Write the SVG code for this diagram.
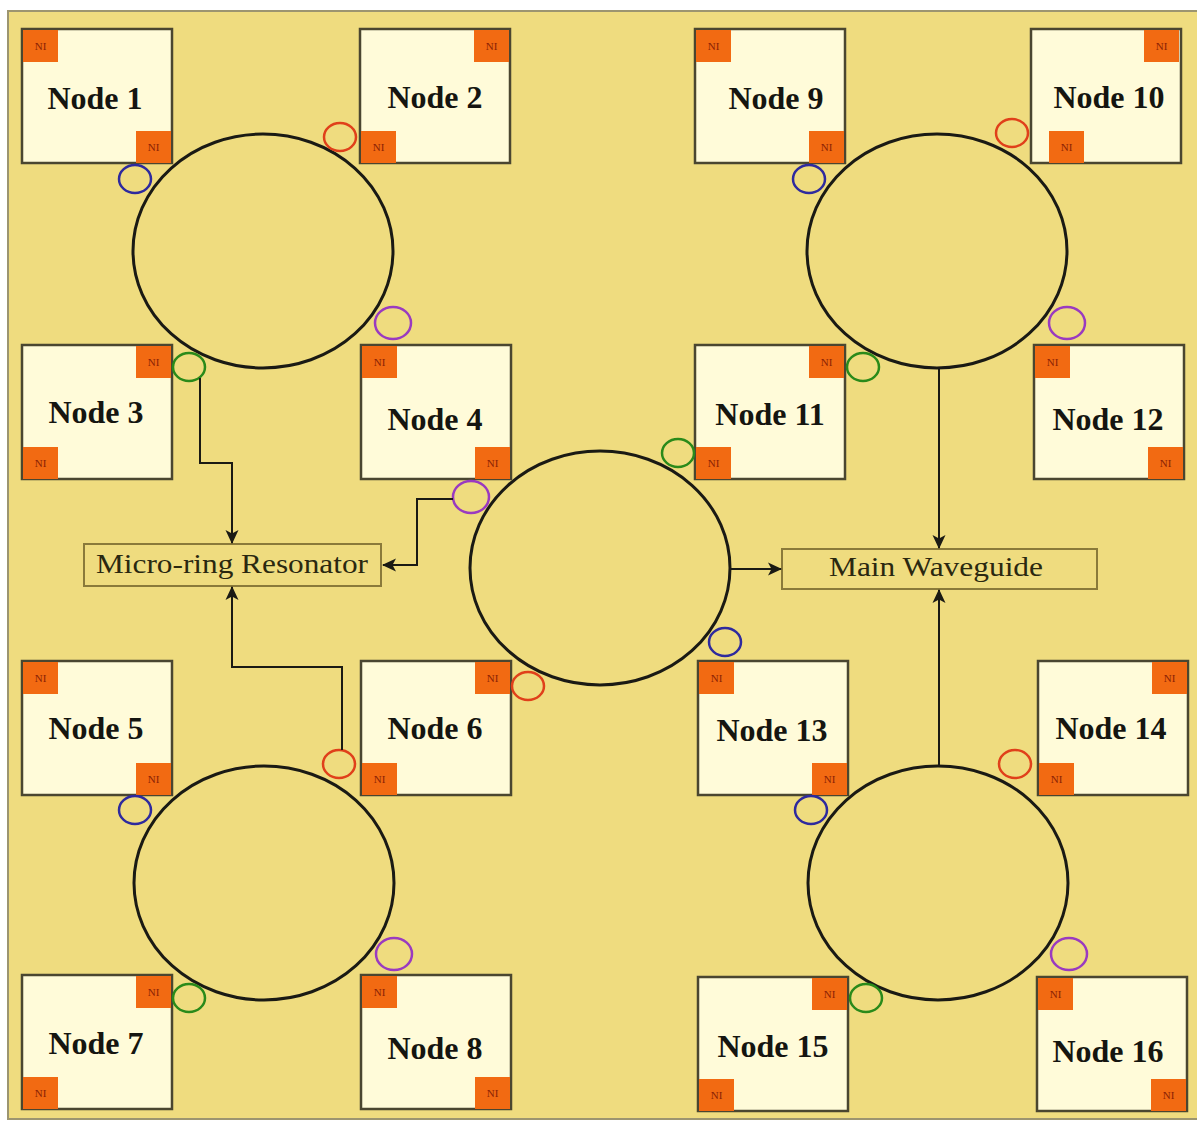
<svg xmlns="http://www.w3.org/2000/svg" width="1197" height="1122" viewBox="0 0 1197 1122">
<defs>
<style>
.bg{fill:#EFDC7F;stroke:#9C9570;stroke-width:2}
.box{fill:#FFFBD9;stroke:#4A4630;stroke-width:2.5}
.ni{fill:#F26A12}
.nit{font-family:"Liberation Serif",serif;font-size:11px;fill:#8A1F05;text-anchor:middle}
.lbl{font-family:"Liberation Serif",serif;font-weight:bold;font-size:32px;fill:#151510;text-anchor:middle}
.ring{fill:none;stroke:#1A1A14;stroke-width:3}
.mr{fill:none;stroke-width:2.5}
.b{stroke:#2E2A9E}.r{stroke:#E0401A}.p{stroke:#9A3AC0}.g{stroke:#2A8A1A}
.lb{fill:#EFDC7F;stroke:#8A7A3A;stroke-width:2}
.lt{font-family:"Liberation Serif",serif;font-size:27px;fill:#2A2810;text-anchor:middle}
.conn{fill:none;stroke:#1A1A14;stroke-width:2}
</style>
<marker id="ah" viewBox="0 0 14 14" refX="13" refY="7" markerWidth="14" markerHeight="14" markerUnits="userSpaceOnUse" orient="auto">
<path d="M0,0.5 L14,7 L0,13.5 L3.5,7 Z" fill="#1A1A14"/>
</marker>
</defs>
<rect class="bg" x="8" y="11" width="1195" height="1108"/>

<g id="rings">
<ellipse class="ring" cx="263" cy="251" rx="130" ry="117"/>
<ellipse class="ring" cx="937" cy="251" rx="130" ry="117"/>
<ellipse class="ring" cx="600" cy="568" rx="130" ry="117"/>
<ellipse class="ring" cx="264" cy="883" rx="130" ry="117"/>
<ellipse class="ring" cx="938" cy="883" rx="130" ry="117"/>
</g>

<g id="node1"><rect class="box" x="22" y="29" width="150" height="134"/>
<rect class="ni" x="23" y="30" width="35" height="32"/><text class="nit" x="40.5" y="50">NI</text>
<rect class="ni" x="136" y="131" width="35" height="32"/><text class="nit" x="153.5" y="151">NI</text>
<text class="lbl" x="95" y="109">Node 1</text></g>

<g id="node2"><rect class="box" x="360" y="29" width="150" height="134"/>
<rect class="ni" x="474" y="30" width="35" height="32"/><text class="nit" x="491.5" y="50">NI</text>
<rect class="ni" x="361" y="131" width="35" height="32"/><text class="nit" x="378.5" y="151">NI</text>
<text class="lbl" x="435" y="108">Node 2</text></g>

<g id="node3"><rect class="box" x="22" y="345" width="150" height="134"/>
<rect class="ni" x="136" y="346" width="35" height="32"/><text class="nit" x="153.5" y="366">NI</text>
<rect class="ni" x="23" y="447" width="35" height="32"/><text class="nit" x="40.5" y="467">NI</text>
<text class="lbl" x="96" y="423">Node 3</text></g>

<g id="node4"><rect class="box" x="361" y="345" width="150" height="134"/>
<rect class="ni" x="362" y="346" width="35" height="32"/><text class="nit" x="379.5" y="366">NI</text>
<rect class="ni" x="475" y="447" width="35" height="32"/><text class="nit" x="492.5" y="467">NI</text>
<text class="lbl" x="435" y="430">Node 4</text></g>

<g id="node5"><rect class="box" x="22" y="661" width="150" height="134"/>
<rect class="ni" x="23" y="662" width="35" height="32"/><text class="nit" x="40.5" y="682">NI</text>
<rect class="ni" x="136" y="763" width="35" height="32"/><text class="nit" x="153.5" y="783">NI</text>
<text class="lbl" x="96" y="739">Node 5</text></g>

<g id="node6"><rect class="box" x="361" y="661" width="150" height="134"/>
<rect class="ni" x="475" y="662" width="35" height="32"/><text class="nit" x="492.5" y="682">NI</text>
<rect class="ni" x="362" y="763" width="35" height="32"/><text class="nit" x="379.5" y="783">NI</text>
<text class="lbl" x="435" y="739">Node 6</text></g>

<g id="node7"><rect class="box" x="22" y="975" width="150" height="134"/>
<rect class="ni" x="136" y="976" width="35" height="32"/><text class="nit" x="153.5" y="996">NI</text>
<rect class="ni" x="23" y="1077" width="35" height="32"/><text class="nit" x="40.5" y="1097">NI</text>
<text class="lbl" x="96" y="1054">Node 7</text></g>

<g id="node8"><rect class="box" x="361" y="975" width="150" height="134"/>
<rect class="ni" x="362" y="976" width="35" height="32"/><text class="nit" x="379.5" y="996">NI</text>
<rect class="ni" x="475" y="1077" width="35" height="32"/><text class="nit" x="492.5" y="1097">NI</text>
<text class="lbl" x="435" y="1059">Node 8</text></g>

<g id="node9"><rect class="box" x="695" y="29" width="150" height="134"/>
<rect class="ni" x="696" y="30" width="35" height="32"/><text class="nit" x="713.5" y="50">NI</text>
<rect class="ni" x="809" y="131" width="35" height="32"/><text class="nit" x="826.5" y="151">NI</text>
<text class="lbl" x="776" y="109">Node 9</text></g>

<g id="node10"><rect class="box" x="1031" y="29" width="150" height="134"/>
<rect class="ni" x="1144" y="30" width="35" height="32"/><text class="nit" x="1161.5" y="50">NI</text>
<rect class="ni" x="1049" y="131" width="35" height="32"/><text class="nit" x="1066.5" y="151">NI</text>
<text class="lbl" x="1109" y="108">Node 10</text></g>

<g id="node11"><rect class="box" x="695" y="345" width="150" height="134"/>
<rect class="ni" x="809" y="346" width="35" height="32"/><text class="nit" x="826.5" y="366">NI</text>
<rect class="ni" x="696" y="447" width="35" height="32"/><text class="nit" x="713.5" y="467">NI</text>
<text class="lbl" x="770" y="425">Node 11</text></g>

<g id="node12"><rect class="box" x="1034" y="345" width="150" height="134"/>
<rect class="ni" x="1035" y="346" width="35" height="32"/><text class="nit" x="1052.5" y="366">NI</text>
<rect class="ni" x="1148" y="447" width="35" height="32"/><text class="nit" x="1165.5" y="467">NI</text>
<text class="lbl" x="1108" y="430">Node 12</text></g>

<g id="node13"><rect class="box" x="698" y="661" width="150" height="134"/>
<rect class="ni" x="699" y="662" width="35" height="32"/><text class="nit" x="716.5" y="682">NI</text>
<rect class="ni" x="812" y="763" width="35" height="32"/><text class="nit" x="829.5" y="783">NI</text>
<text class="lbl" x="772" y="741">Node 13</text></g>

<g id="node14"><rect class="box" x="1038" y="661" width="150" height="134"/>
<rect class="ni" x="1152" y="662" width="35" height="32"/><text class="nit" x="1169.5" y="682">NI</text>
<rect class="ni" x="1039" y="763" width="35" height="32"/><text class="nit" x="1056.5" y="783">NI</text>
<text class="lbl" x="1111" y="739">Node 14</text></g>

<g id="node15"><rect class="box" x="698" y="977" width="150" height="134"/>
<rect class="ni" x="812" y="978" width="35" height="32"/><text class="nit" x="829.5" y="998">NI</text>
<rect class="ni" x="699" y="1079" width="35" height="32"/><text class="nit" x="716.5" y="1099">NI</text>
<text class="lbl" x="773" y="1057">Node 15</text></g>

<g id="node16"><rect class="box" x="1037" y="977" width="150" height="134"/>
<rect class="ni" x="1038" y="978" width="35" height="32"/><text class="nit" x="1055.5" y="998">NI</text>
<rect class="ni" x="1151" y="1079" width="35" height="32"/><text class="nit" x="1168.5" y="1099">NI</text>
<text class="lbl" x="1108" y="1062">Node 16</text></g>

<g id="microrings">
<ellipse class="mr b" cx="135" cy="179" rx="16" ry="14"/>
<ellipse class="mr r" cx="340" cy="137" rx="16" ry="14"/>
<ellipse class="mr p" cx="393" cy="323" rx="18" ry="16"/>
<ellipse class="mr g" cx="189" cy="367" rx="16" ry="14"/>
<ellipse class="mr b" cx="809" cy="179" rx="16" ry="14"/>
<ellipse class="mr r" cx="1012" cy="133" rx="16" ry="14"/>
<ellipse class="mr p" cx="1067" cy="323" rx="18" ry="16"/>
<ellipse class="mr g" cx="863" cy="367" rx="16" ry="14"/>
<ellipse class="mr g" cx="678" cy="453" rx="16" ry="14"/>
<ellipse class="mr p" cx="471" cy="497" rx="18" ry="16"/>
<ellipse class="mr b" cx="725" cy="642" rx="16" ry="14"/>
<ellipse class="mr r" cx="528" cy="686" rx="16" ry="14"/>
<ellipse class="mr b" cx="135" cy="810" rx="16" ry="14"/>
<ellipse class="mr r" cx="339" cy="764" rx="16" ry="14"/>
<ellipse class="mr p" cx="394" cy="954" rx="18" ry="16"/>
<ellipse class="mr g" cx="189" cy="998" rx="16" ry="14"/>
<ellipse class="mr b" cx="811" cy="810" rx="16" ry="14"/>
<ellipse class="mr r" cx="1015" cy="764" rx="16" ry="14"/>
<ellipse class="mr p" cx="1069" cy="954" rx="18" ry="16"/>
<ellipse class="mr g" cx="866" cy="998" rx="16" ry="14"/>
</g>

<g id="micro-ring-resonator"><rect class="lb" x="84" y="544" width="297" height="42"/>
<text class="lt" x="232" y="573" textLength="272" lengthAdjust="spacingAndGlyphs">Micro-ring Resonator</text></g>

<g id="main-waveguide"><rect class="lb" x="782" y="549" width="315" height="40"/>
<text class="lt" x="936" y="576" textLength="214" lengthAdjust="spacingAndGlyphs">Main Waveguide</text></g>

<g id="connectors">
<path class="conn" d="M200,378 V463 H232 V543" marker-end="url(#ah)"/>
<path class="conn" d="M453,499 H417 V565 H383" marker-end="url(#ah)"/>
<path class="conn" d="M342,750 V667 H232 V587" marker-end="url(#ah)"/>
<path class="conn" d="M730,569 H781" marker-end="url(#ah)"/>
<path class="conn" d="M939,368 V548" marker-end="url(#ah)"/>
<path class="conn" d="M939,767 V590" marker-end="url(#ah)"/>
</g>
</svg>
